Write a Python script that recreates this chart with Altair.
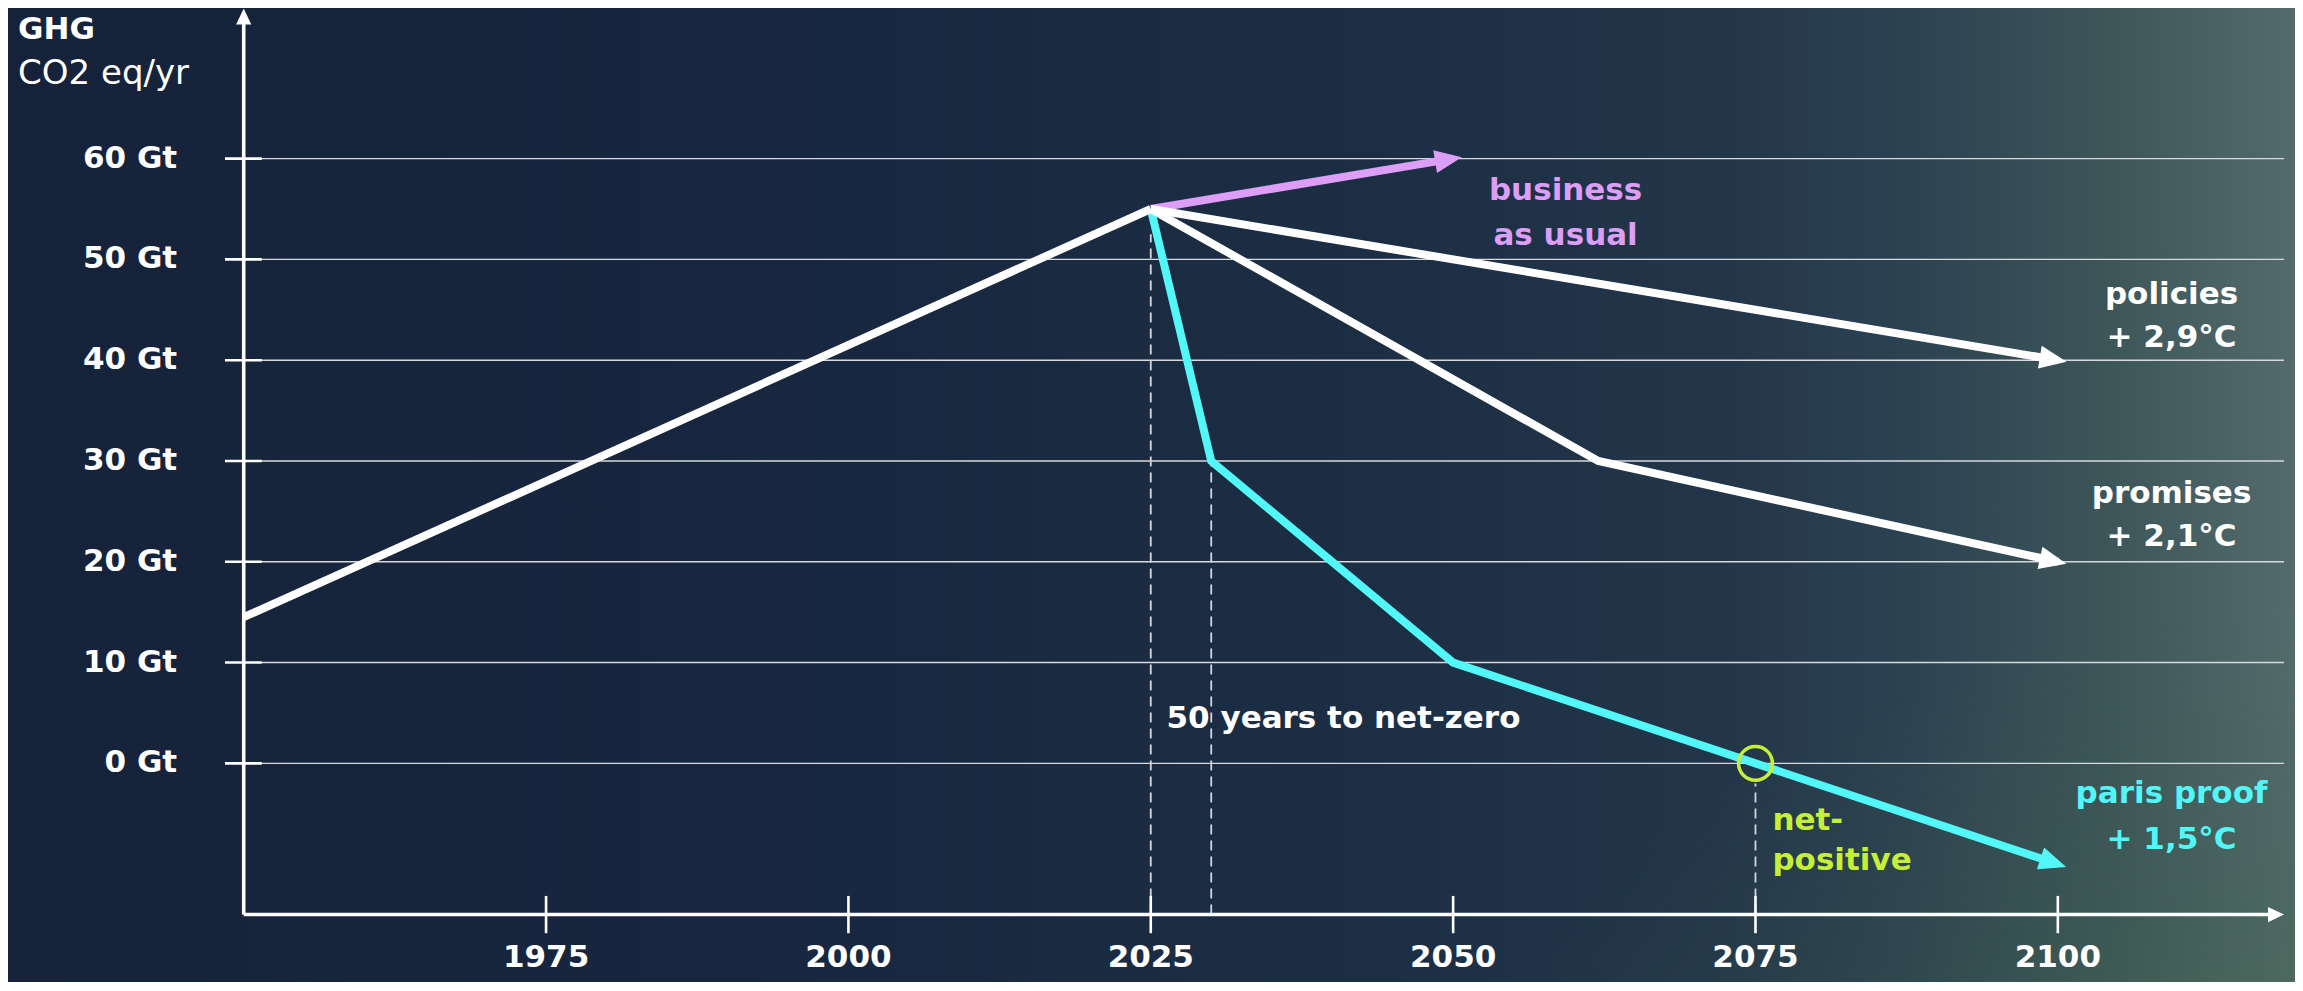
import math
import altair as alt
import pandas as pd

# ---------------- values ----------------
history_year = [1950, 2025]
history_ghg = [14.5, 55]

bau_year = [2025, 2050]
bau_ghg = [55, 60]

policies_year = [2025, 2100]
policies_ghg = [55, 40]

promises_year = [2025, 2062, 2100]
promises_ghg = [55, 30, 20]

paris_year = [2025, 2030, 2050, 2075, 2100]
paris_ghg = [55, 30, 10, 0, -10]

y_tick_value = [0, 10, 20, 30, 40, 50, 60]
y_tick_label = ["0 Gt", "10 Gt", "20 Gt", "30 Gt", "40 Gt", "50 Gt", "60 Gt"]
x_tick_value = [1975, 2000, 2025, 2050, 2075, 2100]
x_tick_label = ["1975", "2000", "2025", "2050", "2075", "2100"]

guide_year = [2025, 2030, 2075]
guide_top = [52.5, 29.8, -2.0]

net_zero_year = [2075]
net_zero_ghg = [0]

label_text = ["business", "as usual", "policies", "+ 2,9°C",
              "promises", "+ 2,1°C", "paris proof", "+ 1,5°C"]
label_series = ["bau", "bau", "policies", "policies",
                "promises", "promises", "paris", "paris"]
label_year = [2059.3, 2059.3, 2109.4, 2109.4, 2109.4, 2109.4, 2109.4, 2109.4]
label_ghg = [55.9, 51.4, 45.6, 41.3, 25.8, 21.6, -3.9, -8.5]

note_text = ["net-", "positive"]
note_year = [2076.4, 2076.4]
note_ghg = [-6.6, -10.6]

span_text = ["50 years to net-zero"]
span_year = [2026.3]
span_ghg = [3.5]

# ---------------- layout / style ----------------
W, H = 2287, 974
X_DOMAIN = [1930.51, 2119.61]
Y_DOMAIN = [-21.69, 74.94]
PX_YEAR = W / (X_DOMAIN[1] - X_DOMAIN[0])
PX_GT = H / (Y_DOMAIN[1] - Y_DOMAIN[0])

AXIS_YEAR = 1950
AXIS_GHG = -15
AXIS_X_END = 2118.7
AXIS_Y_END = 74.9

FONT = "DejaVu Sans"
FS = 31
WHITE = "#ffffff"
PURPLE = "#dd9ef7"
CYAN = "#52f8f8"
LIME = "#c6ef3a"
GRID = "#d6dadf"
LINE_W = 8

series_names = ["history", "bau", "policies", "promises", "paris"]
series_colors = [WHITE, PURPLE, WHITE, WHITE, CYAN]

xs = alt.Scale(domain=X_DOMAIN, nice=False, zero=False)
ys = alt.Scale(domain=Y_DOMAIN, nice=False, zero=False)


def X(f):
    return alt.X(f, type="quantitative", scale=xs, axis=None)


def Y(f):
    return alt.Y(f, type="quantitative", scale=ys, axis=None)


color_scale = alt.Scale(domain=series_names, range=series_colors)

# ---------------- tables ----------------
def series_df(name, years, vals):
    return pd.DataFrame({"series": name, "year": years, "ghg": vals})


colored = pd.concat([series_df("bau", bau_year, bau_ghg),
                     series_df("paris", paris_year, paris_ghg)])
white = pd.concat([series_df("history", history_year, history_ghg),
                   series_df("policies", policies_year, policies_ghg),
                   series_df("promises", promises_year, promises_ghg)])

arrow_rows = []
for name, yrs, vals in [("bau", bau_year, bau_ghg), ("policies", policies_year, policies_ghg),
                        ("promises", promises_year, promises_ghg), ("paris", paris_year, paris_ghg)]:
    dx = (yrs[-1] - yrs[-2]) * PX_YEAR
    dy = (vals[-1] - vals[-2]) * PX_GT
    ang = math.degrees(math.atan2(dx, dy)) % 360
    arrow_rows.append({"series": name, "year": yrs[-1], "ghg": vals[-1], "angle": ang})
arrows = pd.DataFrame(arrow_rows)

grid = pd.DataFrame({"ghg": y_tick_value, "label": y_tick_label})
grid["x0"] = 1951.5
grid["x1"] = AXIS_X_END
grid["t0"] = 1948.45
grid["lx"] = 1944.5

xt = pd.DataFrame({"year": x_tick_value, "label": x_tick_label})
xt["y0"] = -13.15
xt["y1"] = -16.85
xt["ly"] = -20.2

guides = pd.DataFrame({"year": guide_year, "top": guide_top})
guides["bottom"] = AXIS_GHG

axes_lines = pd.DataFrame({
    "x": [AXIS_YEAR, AXIS_YEAR], "x2": [AXIS_X_END - 0.6, AXIS_YEAR],
    "y": [AXIS_GHG, AXIS_GHG], "y2": [AXIS_GHG, AXIS_Y_END - 0.6]})
axes_tips = pd.DataFrame({"x": [AXIS_X_END, AXIS_YEAR], "y": [AXIS_GHG, AXIS_Y_END],
                          "angle": [90, 0]})

labels = pd.DataFrame({"text": label_text, "series": label_series,
                       "year": label_year, "ghg": label_ghg})
notes = pd.DataFrame({"text": note_text, "year": note_year, "ghg": note_ghg})
span = pd.DataFrame({"text": span_text, "year": span_year, "ghg": span_ghg})
circle = pd.DataFrame({"year": net_zero_year, "ghg": net_zero_ghg})
title = pd.DataFrame({"text": ["GHG"], "year": [1931.34], "ghg": [71.9]})
subtitle = pd.DataFrame({"text": ["CO2 eq/yr"], "year": [1931.34], "ghg": [67.4]})

one = pd.DataFrame({"k": [0]})

# ---------------- layers ----------------
bg = alt.Chart(one).mark_rect(
    fill=alt.LinearGradient(
        gradient="linear", x1=0, y1=0, x2=1, y2=0,
        stops=[alt.GradientStop(offset=0.0, color="#15223a"),
               alt.GradientStop(offset=0.40, color="#182840"),
               alt.GradientStop(offset=0.60, color="#1c2e44"),
               alt.GradientStop(offset=0.75, color="#233649"),
               alt.GradientStop(offset=0.83, color="#2c4251"),
               alt.GradientStop(offset=0.92, color="#3d5659"),
               alt.GradientStop(offset=1.0, color="#536b6c")])
).encode(x=alt.value(0), x2=alt.value(W), y=alt.value(0), y2=alt.value(H))

tint = alt.Chart(one).mark_rect(
    fill=alt.RadialGradient(
        gradient="radial", x1=1, y1=1, r1=0, x2=1, y2=1, r2=0.45,
        stops=[alt.GradientStop(offset=0.0, color="rgba(90,128,76,0.95)"),
               alt.GradientStop(offset=0.45, color="rgba(72,110,70,0.55)"),
               alt.GradientStop(offset=0.75, color="rgba(60,95,70,0.2)"),
               alt.GradientStop(offset=1.0, color="rgba(60,95,70,0)")])
).encode(x=alt.value(0), x2=alt.value(W), y=alt.value(0), y2=alt.value(H))

grid_lines = alt.Chart(grid).mark_rule(color=GRID, strokeWidth=1.4).encode(
    x=X("x0"), x2="x1", y=Y("ghg"))
y_ticks = alt.Chart(grid).mark_rule(color=WHITE, strokeWidth=2.6).encode(
    x=X("t0"), x2="x0", y=Y("ghg"))
y_labels = alt.Chart(grid).mark_text(
    align="right", baseline="middle", font=FONT, fontSize=FS, fontWeight="bold", color=WHITE
).encode(x=X("lx"), y=Y("ghg"), text="label:N")

guide_lines = alt.Chart(guides).mark_rule(
    color="#d2d6dc", strokeWidth=1.8, strokeDash=[10, 6]
).encode(x=X("year"), y=Y("bottom"), y2="top")

axis_lines = alt.Chart(axes_lines).mark_rule(color=WHITE, strokeWidth=3.6).encode(
    x=X("x"), x2="x2", y=Y("y"), y2="y2")
axis_tips = alt.Chart(axes_tips).mark_point(
    shape="M0,0L0.95,2L-0.95,2Z", filled=True, size=256, color=WHITE, opacity=1
).encode(x=X("x"), y=Y("y"), angle=alt.Angle("angle:Q", scale=None))

x_ticks = alt.Chart(xt).mark_rule(color=WHITE, strokeWidth=2.6).encode(
    x=X("year"), y=Y("y0"), y2="y1")
x_labels = alt.Chart(xt).mark_text(
    align="center", baseline="alphabetic", font=FONT, fontSize=FS, fontWeight="bold", color=WHITE
).encode(x=X("year"), y=Y("ly"), text="label:N")

colored_lines = alt.Chart(colored).mark_line(strokeWidth=LINE_W).encode(
    x=X("year"), y=Y("ghg"),
    color=alt.Color("series:N", scale=color_scale, legend=None),
    order="year:Q")
white_lines = alt.Chart(white).mark_line(strokeWidth=LINE_W).encode(
    x=X("year"), y=Y("ghg"),
    color=alt.Color("series:N", scale=color_scale, legend=None),
    order="year:Q")

arrow_heads = alt.Chart(arrows).mark_point(
    shape="M0,-0.65L0.85,1.35L-0.85,1.35Z", filled=True, size=729, opacity=1
).encode(x=X("year"), y=Y("ghg"),
         color=alt.Color("series:N", scale=color_scale, legend=None),
         angle=alt.Angle("angle:Q", scale=None))

ring = alt.Chart(circle).mark_point(
    shape="circle", filled=False, size=1150, strokeWidth=3.5, color=LIME, opacity=1
).encode(x=X("year"), y=Y("ghg"))

series_labels = alt.Chart(labels).mark_text(
    align="center", baseline="alphabetic", font=FONT, fontSize=FS, fontWeight="bold"
).encode(x=X("year"), y=Y("ghg"), text="text:N",
         color=alt.Color("series:N", scale=color_scale, legend=None))

note_labels = alt.Chart(notes).mark_text(
    align="left", baseline="alphabetic", font=FONT, fontSize=FS, fontWeight="bold", color=LIME
).encode(x=X("year"), y=Y("ghg"), text="text:N")

span_label = alt.Chart(span).mark_text(
    align="left", baseline="alphabetic", font=FONT, fontSize=FS, fontWeight="bold", color=WHITE
).encode(x=X("year"), y=Y("ghg"), text="text:N")

title_label = alt.Chart(title).mark_text(
    align="left", baseline="alphabetic", font=FONT, fontSize=31, fontWeight="bold", color=WHITE
).encode(x=X("year"), y=Y("ghg"), text="text:N")
subtitle_label = alt.Chart(subtitle).mark_text(
    align="left", baseline="alphabetic", font=FONT, fontSize=34, fontWeight="normal", color=WHITE
).encode(x=X("year"), y=Y("ghg"), text="text:N")

chart = alt.layer(
    bg, tint, grid_lines, y_ticks, guide_lines, axis_lines, x_ticks, axis_tips,
    colored_lines, white_lines, arrow_heads, ring,
    y_labels, x_labels, series_labels, note_labels, span_label, title_label, subtitle_label
).properties(
    width=W, height=H, padding=0, autosize="none", background="#15223a"
).configure_view(stroke=None)

chart.save("out.html", embed_options={"renderer": "svg", "actions": False})
